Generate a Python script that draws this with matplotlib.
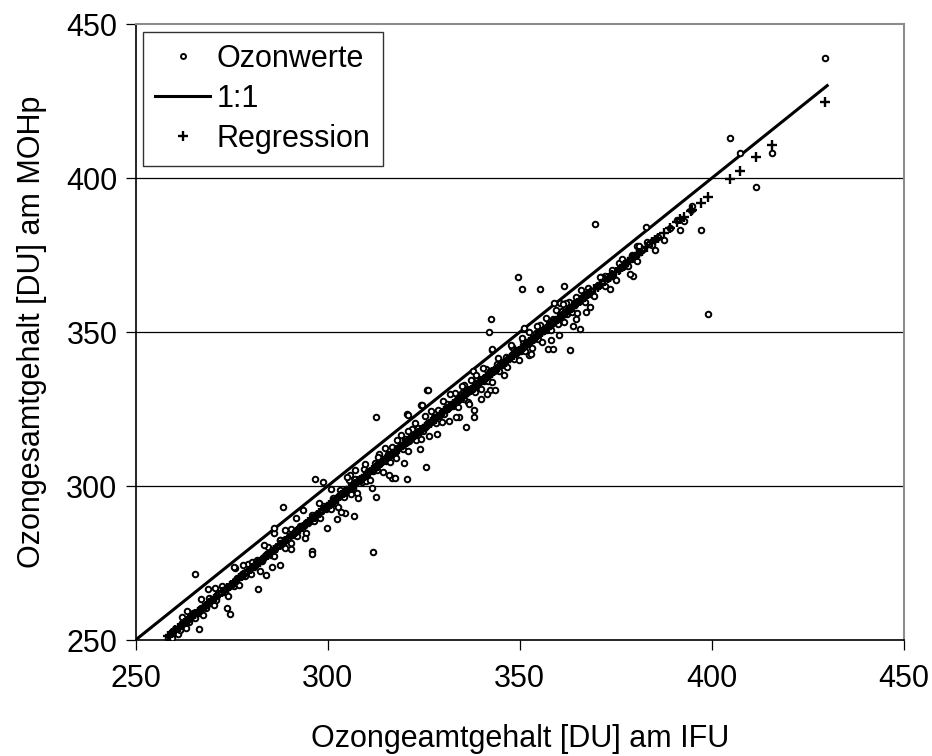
import numpy as np
import matplotlib
matplotlib.use("Agg")
import matplotlib.pyplot as plt

plt.rcParams["font.family"] = ["Liberation Sans", "DejaVu Sans"]

# Gesamtozon [DU]: IFU (x) gegen MOHp (y), abschnittsweise
ifu_a = [258.5, 259.0, 259.5, 260.0, 260.4, 261.0, 261.5, 262.0, 262.6, 263.1,
         263.8, 264.3, 265.0, 265.6, 266.2, 267.0, 267.5, 268.3, 269.0, 269.6,
         270.4, 271.0, 271.8, 272.5, 273.2, 274.0, 274.8, 275.5, 276.3, 277.0,
         277.8, 278.5, 279.3, 280.0, 280.8, 281.5, 282.3, 283.0, 283.8, 284.5,
         285.3, 286.0, 286.8, 287.5, 288.3, 289.0, 289.8, 290.5, 291.3, 292.0,
         292.8, 293.5, 294.3, 295.0, 295.8, 296.5, 297.3, 298.0, 298.8, 299.5,
         265.5, 275.9, 268.8, 267.0, 273.9, 274.6, 266.5, 262.2, 264.2, 280.3,
         282.0, 275.5, 285.5, 287.6, 283.5, 286.0, 286.0, 287.6, 289.0, 290.5,
         290.5, 295.9, 295.9, 288.5, 293.5, 296.7, 298.9, 299.8, 302.5, 304.6,
         306.9, 305.9, 307.2]
mohp_a = [250.5, 251.7, 250.7, 252.3, 253.7, 252.0, 253.3, 255.6, 255.1, 253.8,
          255.9, 257.3, 258.9, 257.0, 258.7, 260.3, 258.0, 260.3, 263.5, 262.4,
          261.5, 262.9, 265.4, 267.4, 265.7, 264.4, 267.9, 267.4, 270.3, 267.9,
          271.3, 270.9, 274.6, 271.6, 273.7, 275.9, 272.5, 275.8, 277.2, 280.1,
          277.5, 277.3, 280.6, 282.4, 280.7, 279.9, 283.0, 285.9, 284.1, 283.8,
          287.0, 287.0, 284.6, 288.1, 290.7, 288.7, 291.0, 289.5, 293.4, 292.5,
          271.4, 273.3, 266.5, 263.3, 260.4, 258.4, 253.6, 257.4, 258.4, 275.4,
          266.5, 273.6, 273.8, 274.4, 281.0, 284.7, 286.3, 282.5, 285.7, 279.5,
          281.5, 279.0, 278.0, 293.3, 292.2, 302.3, 301.4, 286.3, 289.3, 291.4,
          290.3, 303.6, 305.2]

ifu_b = [300.3, 300.9, 301.5, 302.0, 302.6, 303.2, 303.8, 304.3, 304.9, 305.5,
         306.0, 306.6, 307.2, 307.7, 308.3, 308.9, 309.4, 310.0, 310.6, 311.1,
         311.7, 312.3, 312.8, 313.4, 314.0, 314.5, 315.1, 315.7, 316.2, 316.8,
         317.4, 317.9, 318.5, 319.1, 319.6, 320.2, 320.8, 321.3, 321.9, 322.5,
         323.0, 323.6, 324.2, 324.7, 325.3, 325.9, 326.4, 327.0, 327.6, 328.1,
         328.7, 329.3, 329.8, 330.4, 331.0, 331.5, 332.1, 332.7, 333.2, 333.8,
         334.4, 334.9, 335.5, 336.1, 336.6, 337.2, 337.8, 338.3, 338.9, 339.5,
         340.0, 340.6, 341.2, 341.7, 342.3, 342.9, 343.4, 344.0, 344.6, 345.1,
         311.8, 312.6, 325.8, 324.3, 320.6, 325.7, 320.6, 312.6, 311.5, 316.8,
         317.6, 326.1, 342.6, 342.1, 342.8, 342.3, 343.6, 339.9, 338.0, 338.0,
         334.3, 336.0, 320.8, 324.5, 337.8, 335.4]
mohp_b = [293.9, 292.6, 296.2, 294.5, 293.2, 298.6, 297.1, 296.4, 299.0, 302.0,
          297.4, 299.5, 302.2, 297.8, 301.8, 301.3, 305.4, 301.7, 305.0, 302.1,
          304.9, 307.6, 305.2, 310.4, 307.8, 304.5, 308.1, 310.4, 307.9, 312.6,
          310.8, 309.2, 312.7, 316.7, 311.9, 315.2, 311.5, 314.6, 318.4, 316.2,
          315.0, 318.8, 315.3, 317.8, 322.7, 320.1, 316.4, 320.7, 322.4, 320.4,
          324.8, 323.2, 320.8, 323.5, 326.6, 321.2, 326.5, 326.0, 330.1, 325.6,
          328.1, 330.1, 328.2, 330.8, 327.2, 334.4, 331.4, 330.6, 334.9, 333.8,
          331.6, 334.0, 337.9, 334.2, 337.2, 333.9, 337.4, 339.5, 337.5, 339.5,
          278.6, 322.3, 331.2, 326.3, 323.4, 306.3, 302.3, 296.5, 299.2, 302.6,
          302.6, 331.2, 354.1, 350.1, 344.2, 331.2, 331.2, 328.2, 324.7, 322.4,
          322.3, 319.3, 323.0, 326.3, 337.5, 332.8]

ifu_c = [345.7, 346.3, 346.8, 347.4, 348.0, 348.5, 349.1, 349.7, 350.2, 350.8,
         351.4, 351.9, 352.5, 353.1, 353.6, 354.2, 354.8, 355.3, 355.9, 356.5,
         357.0, 357.6, 358.2, 358.7, 359.3, 359.9, 360.4, 361.0, 361.6, 362.2,
         362.8, 363.5, 364.2, 364.9, 365.6, 366.3, 367.0, 367.8, 368.6, 369.4,
         370.3, 371.2, 372.1, 373.0, 374.0, 375.0, 376.0, 377.1, 378.2, 379.3,
         380.5, 381.8, 383.1, 384.5, 386.0, 387.6, 389.2, 390.9, 392.7, 394.6,
         349.5, 350.7, 355.3, 361.4, 359.0, 360.5, 364.6, 362.0, 367.3, 364.7,
         365.8, 363.2, 357.4, 358.7, 360.3, 355.3, 351.0, 352.3, 342.9, 369.5,
         382.9, 380.5, 379.5, 372.3, 374.0, 375.7, 377.0, 394.8, 399.0, 397.2]
mohp_c = [339.5, 341.8, 338.6, 341.7, 345.0, 341.3, 344.2, 340.8, 343.9, 347.0,
          343.8, 346.7, 349.9, 344.8, 347.7, 349.7, 347.8, 351.8, 346.7, 351.1,
          350.7, 353.7, 350.6, 354.1, 357.1, 352.7, 354.8, 356.9, 353.3, 355.8,
          359.8, 356.5, 359.4, 356.2, 361.2, 360.4, 359.6, 364.3, 362.5, 361.6,
          365.3, 367.9, 365.0, 367.4, 370.0, 366.9, 370.9, 371.3, 371.6, 374.9,
          373.2, 376.5, 379.2, 378.2, 381.0, 380.0, 383.8, 386.4, 386.0, 389.5,
          368.0, 364.0, 364.0, 365.0, 359.3, 359.3, 361.3, 359.4, 356.4, 354.1,
          351.0, 344.2, 344.5, 344.5, 349.0, 352.3, 351.2, 342.5, 344.5, 385.1,
          384.0, 377.9, 368.2, 368.2, 368.2, 372.3, 371.8, 391.0, 356.0, 383.0]

ifu_d = [404.8, 407.2, 411.6, 415.7, 429.5]
mohp_d = [412.9, 408.0, 397.0, 408.0, 439.0]

# breiter gestreute Werte beiderseits des Hauptbandes
ifu_e = [263.5, 270.8, 278.0, 284.0, 291.8, 294.0, 297.8, 301.0, 303.5, 305.0,
         308.0, 309.8, 313.0, 314.8, 316.0, 318.0, 319.8, 321.0, 322.8, 324.0,
         326.8, 328.5, 330.0, 331.8, 333.5, 335.0, 336.8, 338.5, 340.3, 341.5,
         344.3, 346.0, 347.8, 350.5, 352.8, 354.5, 356.8, 358.0, 361.2, 363.8,
         366.0, 368.2, 370.8, 373.5, 376.5, 378.8, 381.0, 385.3, 391.8]
mohp_e = [259.5, 266.8, 274.5, 271.0, 289.5, 283.0, 294.5, 298.9, 291.5, 302.8,
          296.0, 307.0, 309.5, 312.5, 303.5, 314.8, 307.5, 317.8, 320.5, 312.0,
          324.5, 317.0, 327.5, 329.8, 322.5, 332.5, 326.5, 336.0, 338.3, 330.0,
          341.5, 336.0, 345.8, 348.0, 343.0, 352.0, 354.5, 347.5, 359.0, 352.0,
          363.5, 358.0, 368.0, 364.0, 373.8, 369.0, 378.0, 376.5, 383.0]

ifu = np.array(ifu_a + ifu_b + ifu_c + ifu_d + ifu_e)
mohp = np.array(mohp_a + mohp_b + mohp_c + mohp_d + mohp_e)

# lineare Regression MOHp ~ IFU
slope, icpt = np.polyfit(ifu, mohp, 1)
reg = slope * ifu + icpt

FS = 22

fig = plt.figure(figsize=(9.32, 7.56), dpi=100)
ax = fig.add_axes([0.1454, 0.1534, 0.8246, 0.8148])

for y in (300, 350, 400):
    ax.axhline(y, color="black", lw=0.9, zorder=0)

ax.plot(ifu, mohp, "o", ms=4.0, mfc="white", mec="black", mew=1.4,
        ls="none", label="Ozonwerte", zorder=3)
ax.plot([250, 430], [250, 430], color="black", lw=2.2, label="1:1", zorder=2)
ax.plot(ifu, reg, "+", ms=7.5, mec="black", mew=1.7, ls="none",
        label="Regression", zorder=4)

ax.set_xlim(250, 450)
ax.set_ylim(250, 450)
ax.set_xticks([250, 300, 350, 400, 450])
ax.set_yticks([250, 300, 350, 400, 450])
ax.tick_params(axis="both", direction="out", length=7, width=0.9,
               labelsize=FS, colors="black")
ax.tick_params(axis="x", pad=10)
ax.tick_params(axis="y", pad=6)

for side in ("left", "bottom"):
    ax.spines[side].set_color("black")
    ax.spines[side].set_linewidth(1.2)
for side in ("top", "right"):
    ax.spines[side].set_color("#8c8c8c")
    ax.spines[side].set_linewidth(1.5)

ax.set_xlabel("Ozongeamtgehalt [DU] am IFU", fontsize=FS, labelpad=22)
ax.set_ylabel("Ozongesamtgehalt [DU] am MOHp", fontsize=FS, labelpad=14)

leg = ax.legend(loc="upper left", bbox_to_anchor=(0.0, 1.0), fontsize=FS,
                frameon=True, fancybox=False, edgecolor="black",
                borderaxespad=0.25, borderpad=0.4, labelspacing=0.33,
                handlelength=1.8, handletextpad=0.2, markerscale=0.9)
leg.get_frame().set_linewidth(1.0)

fig.savefig("out.png", dpi=100)
